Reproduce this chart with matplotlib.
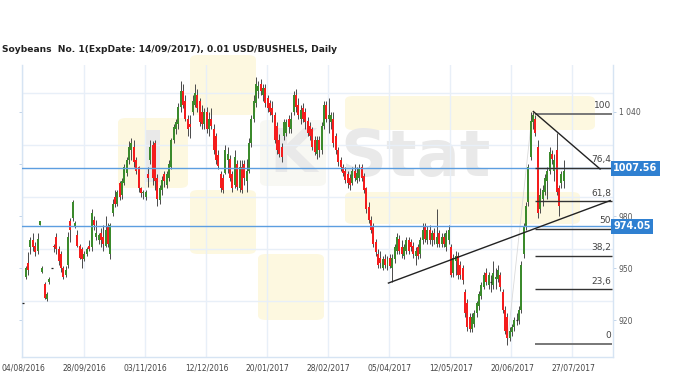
import matplotlib
matplotlib.use("Agg")
import matplotlib.pyplot as plt
from matplotlib.patches import FancyBboxPatch, Rectangle
from matplotlib.transforms import blended_transform_factory

# candles (daily OHLC)
opens = [
    930, 945, 953, 962, 966, 963, 960, 975, 948, 941,
    932, 942, 950, 963, 968, 961, 958, 950, 946, 952,
    977, 979, 974, 969, 963, 961, 955, 958, 963, 962,
    978, 968, 966, 970, 968, 963, 974, 958, 982, 991,
    987, 999, 992, 999, 1005, 1012, 1018, 1020, 1012, 1008,
    996, 993, 991, 1004, 1012, 1021, 1022, 1002, 989, 995,
    1004, 998, 1002, 1008, 1024, 1030, 1033, 1043, 1052, 1046,
    1036, 1033, 1040, 1044, 1050, 1046, 1040, 1033, 1040, 1030,
    1036, 1030, 1026, 1015, 1004, 1002, 1005, 1012, 1013, 1004,
    998, 1010, 996, 1008, 1010, 1000, 1006, 1022, 1036, 1045,
    1052, 1056, 1050, 1054, 1048, 1045, 1042, 1038, 1032, 1024,
    1020, 1026, 1028, 1036, 1030, 1040, 1050, 1044, 1036, 1042,
    1040, 1035, 1032, 1030, 1024, 1016, 1024, 1018, 1032, 1044,
    1036, 1034, 1036, 1026, 1018, 1012, 1008, 1006, 1004, 1002,
    999, 1006, 1001, 1002, 1008, 1003, 996, 985, 978, 974,
    965, 958, 956, 950, 955, 951, 956, 950, 955, 960,
    967, 962, 957, 960, 966, 965, 963, 957, 962, 958,
    966, 974, 966, 972, 966, 970, 964, 970, 964, 968,
    962, 966, 962, 947, 954, 957, 952, 950, 936, 930,
    922, 915, 918, 924, 928, 934, 939, 947, 940, 942,
    940, 944, 944, 946, 936, 926, 922, 910, 913, 916,
    920, 920, 926, 958, 974, 988, 1014, 1034, 1036, 1020,
    984, 990, 994, 1000, 1006, 1016, 1006, 1018, 996, 999,
    1000,
]
highs = [
    930, 951, 959, 968, 970, 965, 970, 977, 951, 942,
    936, 945, 950, 964, 970, 963, 960, 951, 951, 971,
    979, 989, 977, 972, 964, 962, 960, 962, 966, 984,
    980, 978, 970, 973, 975, 980, 976, 976, 990, 995,
    995, 1000, 1002, 1010, 1014, 1023, 1025, 1024, 1014, 1009,
    997, 995, 995, 1008, 1024, 1023, 1024, 1004, 998, 1003,
    1006, 1006, 1012, 1025, 1033, 1036, 1045, 1058, 1056, 1050,
    1038, 1038, 1050, 1056, 1053, 1048, 1044, 1042, 1043, 1040,
    1042, 1033, 1028, 1018, 1006, 1004, 1021, 1020, 1015, 1006,
    1018, 1012, 1012, 1012, 1012, 1013, 1025, 1038, 1050, 1060,
    1058, 1059, 1056, 1056, 1050, 1047, 1046, 1040, 1034, 1027,
    1022, 1036, 1036, 1038, 1040, 1052, 1053, 1048, 1044, 1045,
    1042, 1037, 1034, 1031, 1026, 1026, 1026, 1034, 1046, 1046,
    1048, 1040, 1040, 1028, 1020, 1014, 1010, 1008, 1006, 1004,
    1008, 1010, 1008, 1010, 1010, 1005, 997, 988, 980, 976,
    967, 961, 960, 957, 958, 957, 958, 958, 964, 970,
    969, 966, 964, 968, 968, 967, 965, 962, 964, 968,
    976, 976, 974, 975, 972, 973, 984, 972, 970, 970,
    972, 975, 964, 958, 960, 959, 954, 952, 938, 932,
    924, 924, 926, 931, 937, 942, 948, 950, 948, 946,
    954, 950, 952, 948, 938, 928, 924, 916, 918, 922,
    924, 928, 954, 976, 988, 1010, 1040, 1040, 1038, 1024,
    996, 998, 1004, 1008, 1020, 1018, 1016, 1028, 998, 1006,
    1012,
]
lows = [
    930, 944, 946, 958, 960, 957, 958, 975, 947, 932,
    931, 941, 950, 959, 958, 952, 948, 944, 945, 950,
    965, 977, 973, 962, 955, 950, 954, 957, 960, 960,
    972, 966, 964, 962, 960, 962, 962, 955, 980, 985,
    986, 989, 990, 998, 1003, 1010, 1012, 1008, 1004, 994,
    991, 990, 989, 997, 1010, 998, 995, 986, 987, 992,
    997, 996, 1000, 1007, 1022, 1027, 1030, 1040, 1042, 1035,
    1026, 1025, 1038, 1043, 1040, 1032, 1030, 1030, 1028, 1026,
    1030, 1016, 1010, 1007, 994, 993, 1004, 1005, 1000, 994,
    996, 995, 994, 993, 998, 994, 1005, 1020, 1034, 1043,
    1048, 1050, 1046, 1043, 1040, 1038, 1034, 1022, 1016, 1014,
    1011, 1024, 1026, 1028, 1028, 1038, 1040, 1036, 1033, 1034,
    1030, 1026, 1024, 1018, 1015, 1013, 1014, 1016, 1030, 1034,
    1028, 1030, 1020, 1016, 1009, 1006, 1003, 999, 996, 995,
    998, 1000, 999, 1000, 1000, 993, 982, 976, 970, 962,
    957, 950, 950, 949, 950, 949, 950, 942, 953, 958,
    958, 956, 955, 958, 958, 960, 956, 952, 955, 956,
    964, 965, 964, 964, 963, 964, 962, 962, 962, 962,
    960, 964, 945, 945, 946, 944, 944, 941, 922, 914,
    913, 913, 916, 922, 926, 932, 938, 940, 938, 936,
    938, 938, 942, 937, 924, 912, 906, 908, 911, 914,
    917, 918, 924, 956, 972, 986, 1012, 1030, 1026, 979,
    982, 986, 992, 990, 1004, 1010, 1000, 992, 980, 996,
    996,
]
closes = [
    930, 950, 949, 966, 962, 959, 967, 977, 950, 933,
    935, 944, 950, 962, 961, 954, 950, 945, 949, 968,
    972, 988, 976, 963, 956, 955, 958, 961, 961, 982,
    975, 970, 969, 966, 964, 972, 964, 975, 987, 987,
    994, 991, 1000, 1008, 1012, 1020, 1022, 1011, 1006, 996,
    993, 994, 994, 1002, 1020, 1002, 1000, 990, 996, 1001,
    1000, 1004, 1010, 1024, 1031, 1034, 1043, 1052, 1044, 1036,
    1030, 1031, 1046, 1051, 1042, 1034, 1033, 1040, 1030, 1036,
    1032, 1018, 1012, 1009, 996, 995, 1018, 1016, 1002, 996,
    1014, 997, 1008, 995, 1002, 1006, 1022, 1036, 1046, 1056,
    1055, 1052, 1054, 1045, 1042, 1040, 1038, 1024, 1018, 1016,
    1014, 1034, 1034, 1031, 1036, 1050, 1043, 1038, 1041, 1036,
    1034, 1028, 1026, 1020, 1017, 1024, 1018, 1032, 1044, 1036,
    1038, 1038, 1022, 1018, 1011, 1008, 1005, 1001, 999, 998,
    1006, 1002, 1005, 1007, 1002, 995, 984, 978, 972, 964,
    959, 952, 953, 955, 952, 955, 951, 956, 962, 968,
    960, 958, 962, 966, 960, 962, 958, 960, 957, 966,
    972, 967, 972, 966, 970, 966, 968, 964, 968, 964,
    970, 972, 946, 956, 957, 946, 946, 943, 924, 916,
    915, 922, 924, 930, 935, 940, 946, 942, 946, 942,
    947, 945, 949, 939, 926, 914, 910, 914, 916, 920,
    920, 926, 952, 974, 986, 1008, 1035, 1038, 1028, 982,
    992, 995, 1002, 1006, 1017, 1013, 1012, 994, 986, 1004,
    1006,
]

date_ticks = [0, 26, 52, 78, 104, 130, 156, 182, 208, 234]
date_labels = ["04/08/2016", "28/09/2016", "03/11/2016", "12/12/2016",
               "20/01/2017", "28/02/2017", "05/04/2017", "12/05/2017",
               "20/06/2017", "27/07/2017"]
price_ticks = [920, 950, 980, 1010, 1040]
price_labels = ["920", "950", "980", "", "1 040"]
grid_levels = [931, 961, 991, 1021, 1051]

last_price = 1007.56
marked_price = 974.05

fib_low = 906.5
fib_high = 1039.0
fib_ratios = [0, 23.6, 38.2, 50, 61.8, 76.4, 100]
fib_start, fib_end = 218.0, 250.5
fib_swing = (206.0, 216.6)

resistance_line = ([217.1, 245.5], [1040.2, 1007.1])
support_line = ([155.4, 249.8], [941.4, 988.9])

GREEN = "#3b8a2c"
RED = "#f41d1d"
WICK = "#4a4a4a"
BLUE = "#2f80d1"
TILE = "#fdf8e0"
MARK = "#e9e9e9"


def draw_candles(ax):
    for i, (o, h, l, c) in enumerate(zip(opens, highs, lows, closes)):
        ax.vlines(i, l, h, color=WICK, linewidth=0.7, zorder=3)
        if o == c:
            ax.hlines(c, i - 0.4, i + 0.4, color="#222222", linewidth=0.9, zorder=4)
            continue
        color = GREEN if c > o else RED
        ax.bar(i, abs(c - o), bottom=min(o, c), width=0.85, color=color,
               linewidth=0, zorder=4)


def px_box(x, y, w, h):
    # pixel box (top-left origin) -> figure fraction
    return (x / 680, 1 - (y + h) / 381), w / 680, h / 381


def draw_watermark(fig):
    tiles = [
        (118, 118, 70, 70, TILE),
        (190, 55, 66, 60, TILE),
        (190, 190, 66, 64, TILE),
        (258, 254, 66, 66, TILE),
        (260, 120, 66, 66, "#f8f8f3"),
        (345, 96, 250, 34, TILE),
        (345, 192, 235, 32, TILE),
    ]
    for x, y, w, h, col in tiles:
        xy, fw, fh = px_box(x, y, w, h)
        fig.patches.append(FancyBboxPatch(
            xy, fw, fh, boxstyle="round,pad=0,rounding_size=0.012",
            transform=fig.transFigure, facecolor=col, edgecolor="none", zorder=0))
    xy, fw, fh = px_box(146, 130, 14, 52)
    fig.patches.append(Rectangle(xy, fw, fh, transform=fig.transFigure,
                                 facecolor=MARK, edgecolor="none", zorder=0))
    fig.text(293 / 680, 1 - 155 / 381, "K", fontsize=44, fontweight="bold",
             color=MARK, ha="center", va="center", zorder=0)
    fig.text(340 / 680, 1 - 158 / 381, "Stat", fontsize=46, fontweight="bold",
             color=MARK, ha="left", va="center", zorder=0)


fig = plt.figure(figsize=(6.8, 3.81), dpi=100)
draw_watermark(fig)
ax = fig.add_axes([22 / 680, 24 / 381, 591 / 680, 292 / 381])
ax.set_zorder(2)
ax.patch.set_alpha(0)

for g in grid_levels:
    ax.axhline(g, color="#e8eff8", linewidth=1, zorder=1)
for t in date_ticks:
    ax.axvline(t - 0.4, color="#e8eff8", linewidth=1, zorder=1)

draw_candles(ax)

# current price and marked level
ax.axhline(last_price, color="#5c9ee0", linewidth=1, zorder=5)
ax.axhline(marked_price, color="#5c9ee0", linewidth=1, zorder=5)

# fibonacci retracement
ax.plot(fib_swing, [fib_low, fib_high], color="#dadada", linewidth=0.6, zorder=2)
for r in fib_ratios:
    level = fib_low + (fib_high - fib_low) * r / 100
    edge = r in (0, 100)
    ax.hlines(level, fib_start, fib_end, color="#777777" if edge else "#333333",
              linewidth=1.4 if edge else 1.0, zorder=6)
    label = f"{r:g}".replace(".", ",")
    ax.text(fib_end - 0.3, level + 2.2, label, fontsize=6.5, color="#444444",
            ha="right", va="bottom", zorder=7)

# trend lines
ax.plot(*resistance_line, color="#222222", linewidth=1, zorder=6)
ax.plot(*support_line, color="#222222", linewidth=1, zorder=6)

ax.set_xlim(-0.6, 251)
ax.set_ylim(898.8, 1067)

ax.set_xticks(date_ticks)
ax.set_xticklabels(date_labels)
ax.set_yticks(price_ticks)
ax.set_yticklabels(price_labels)
ax.tick_params(axis="x", length=0, labelsize=5.5, labelcolor="#444444", pad=5)
ax.tick_params(axis="y", left=True, right=True, labelleft=False, labelright=True,
               length=2, width=0.6, color="#b8cde6", labelsize=5.5,
               labelcolor="#555555", pad=2)
for side in ["left", "right", "bottom"]:
    ax.spines[side].set_color("#d6e4f3")
    ax.spines[side].set_linewidth(1)
ax.spines["top"].set_visible(False)

trans = blended_transform_factory(ax.transAxes, ax.transData)
for price in (last_price, marked_price):
    ax.text(1.0, price, f"{price:.2f}", transform=trans, fontsize=7,
            fontweight="bold", color="white", ha="left", va="center",
            clip_on=False, zorder=8,
            bbox=dict(boxstyle="square,pad=0.25", facecolor=BLUE, edgecolor="none"))

fig.text(2 / 680, 1 - 50 / 381,
         "Soybeans  No. 1(ExpDate: 14/09/2017), 0.01 USD/BUSHELS, Daily",
         fontsize=6.6, fontweight="bold", color="#222222", ha="left", va="center")

fig.savefig("out.png", dpi=100)
